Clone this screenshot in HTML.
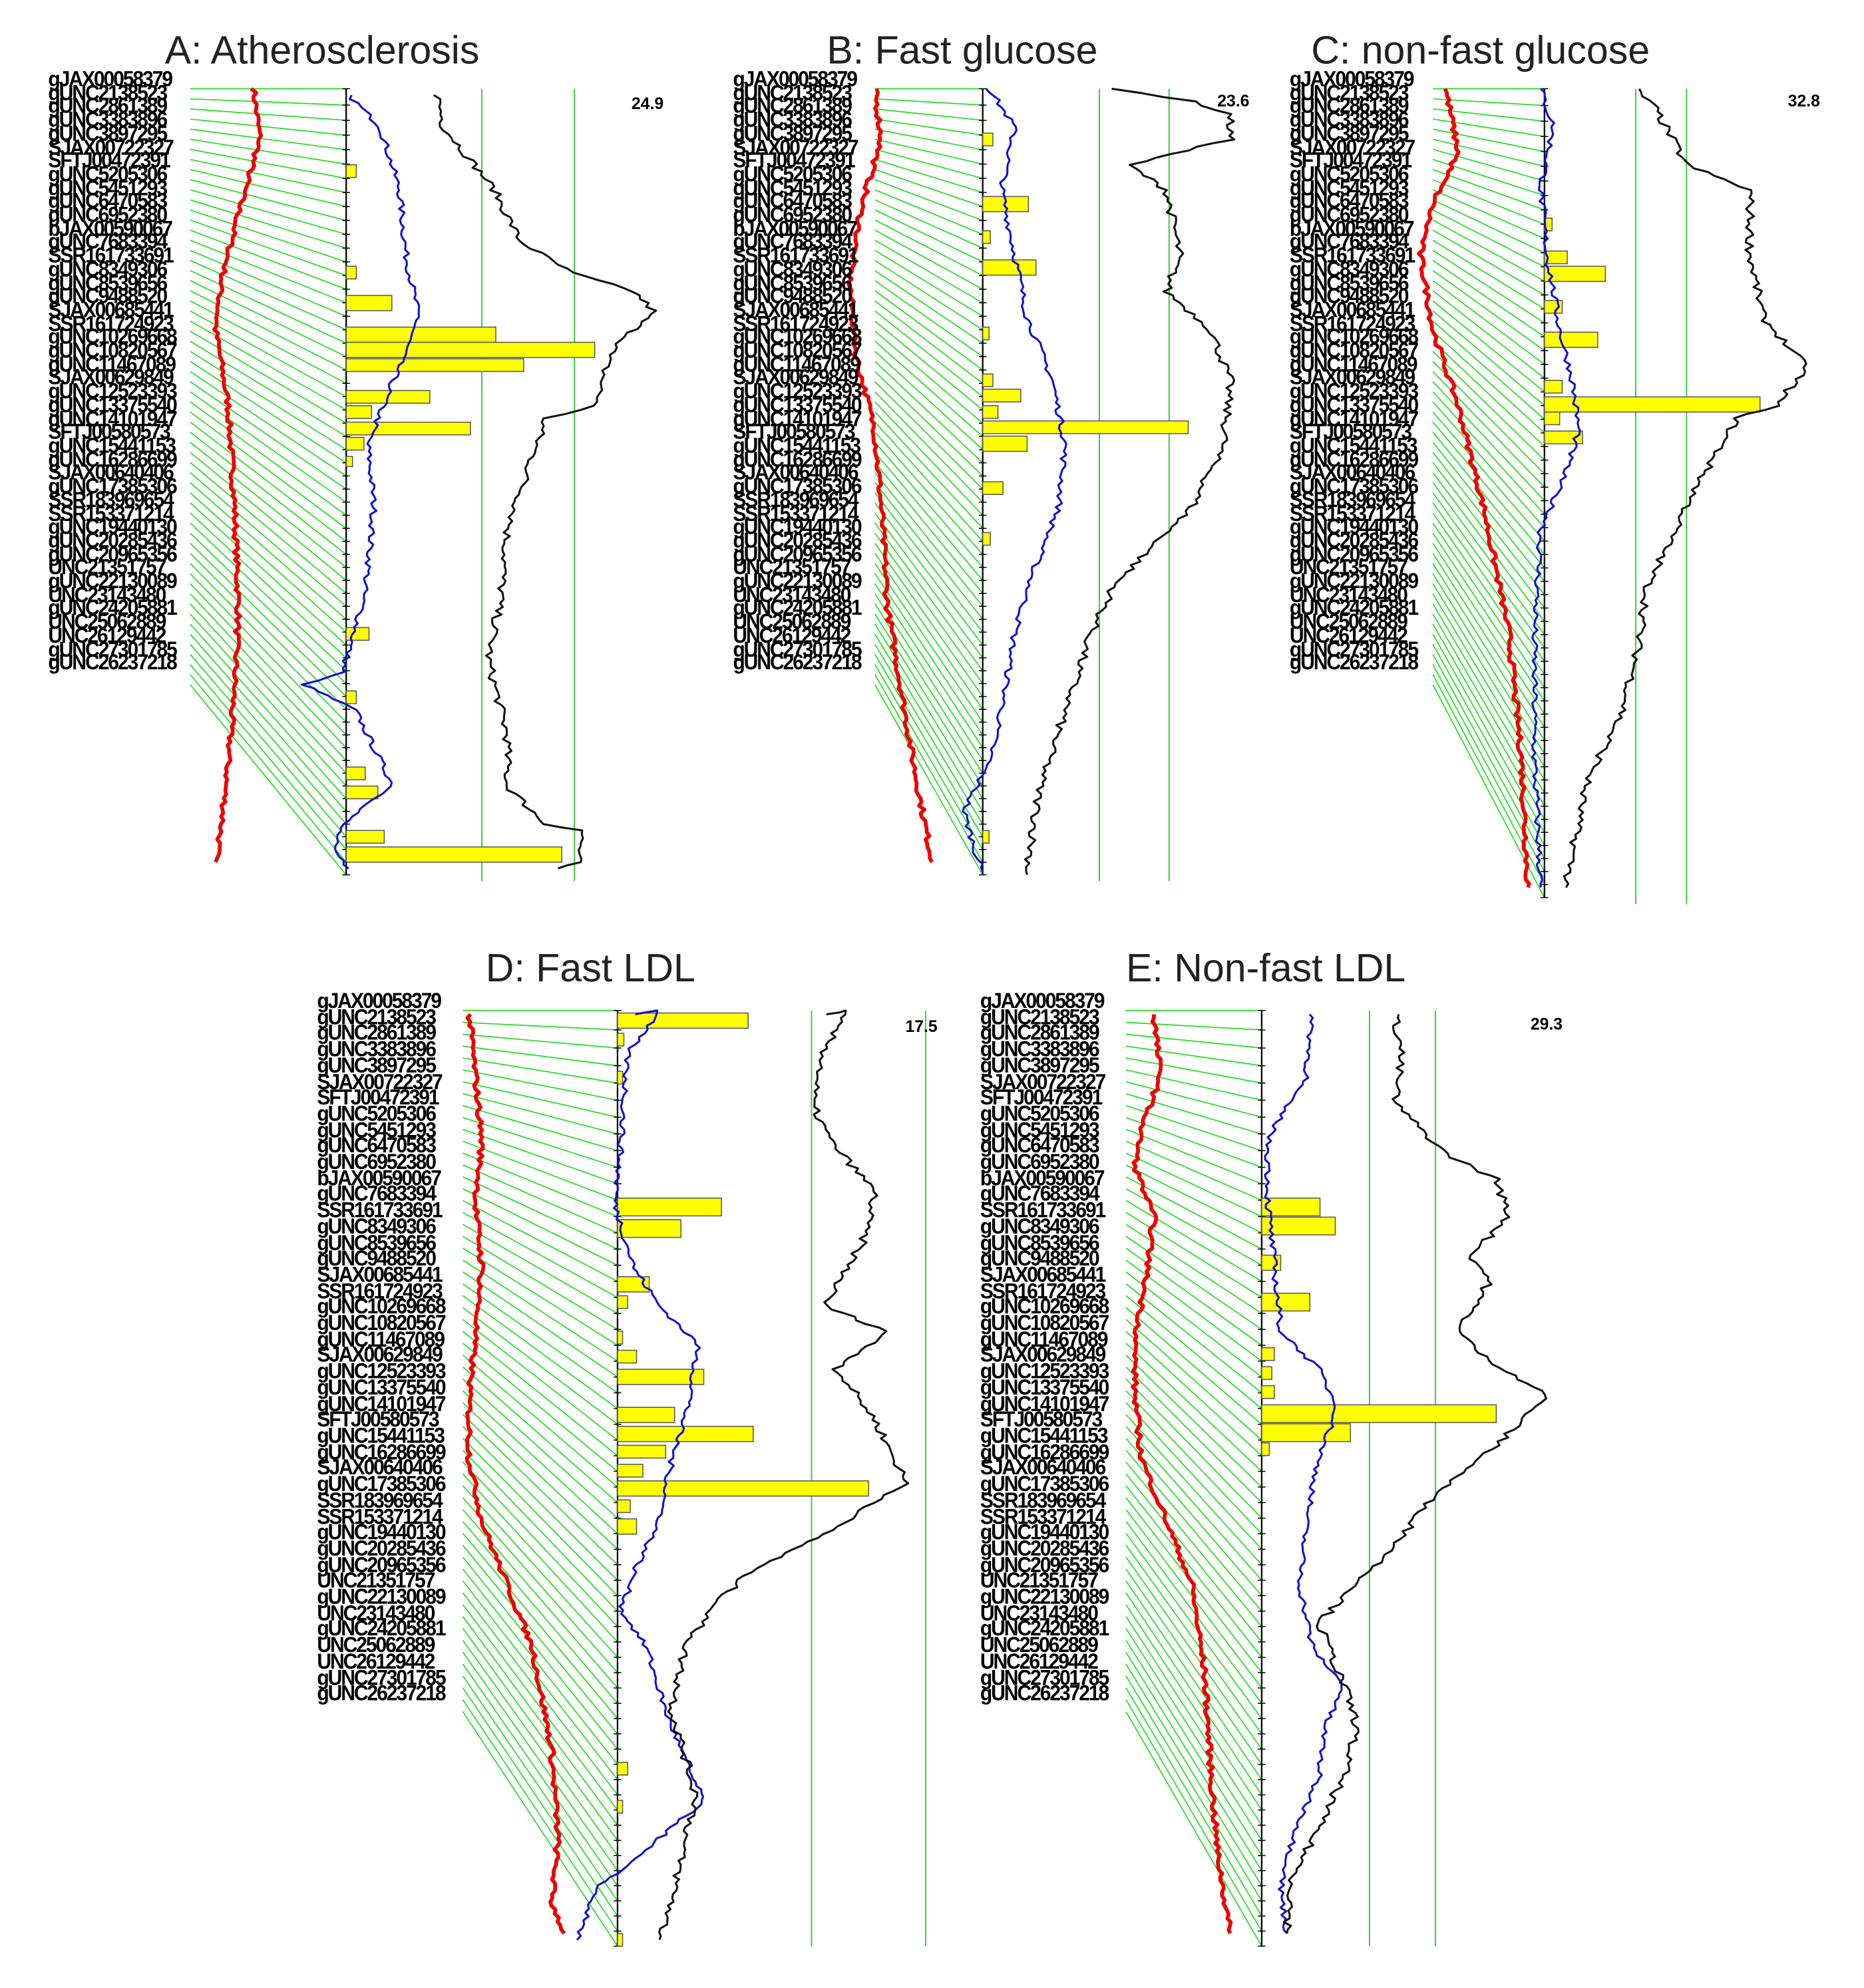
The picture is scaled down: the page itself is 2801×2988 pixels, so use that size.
<!DOCTYPE html>
<html><head><meta charset="utf-8">
<style>
html,body{margin:0;padding:0;background:#fff;}
#wrap{position:relative;width:2801px;height:2988px;overflow:hidden;background:#fff;}
#c{position:absolute;left:0;top:0;width:1470px;height:1568px;transform:scale(1.90544,1.90561);transform-origin:0 0;}
svg{position:absolute;left:0;top:0;}
.t{position:absolute;font-family:"Liberation Sans",sans-serif;font-size:31px;color:#222;white-space:nowrap;}
.lab{position:absolute;font-family:"Liberation Sans",sans-serif;font-weight:bold;font-size:17px;color:#000;letter-spacing:-1.2px;transform:scaleX(0.93);transform-origin:0 0;white-space:nowrap;}
.n{position:absolute;font-family:"Liberation Sans",sans-serif;font-weight:bold;font-size:13px;color:#000;}
</style></head><body>
<div id="wrap"><div id="c">
<svg id="s" width="1470" height="1568" viewBox="0 0 1470 1568"></svg>
<div class="t" style="left:130px;top:22px">A: Atherosclerosis</div>
<div class="t" style="left:652px;top:22px">B: Fast glucose</div>
<div class="t" style="left:1034px;top:22px">C: non-fast glucose</div>
<div class="t" style="left:383px;top:746px">D: Fast LDL</div>
<div class="t" style="left:888px;top:746px">E: Non-fast LDL</div>
<div class="n" style="left:498px;top:74px">24.9</div>
<div class="n" style="left:960px;top:72px">23.6</div>
<div class="n" style="left:1410px;top:72px">32.8</div>
<div class="n" style="left:714px;top:802px">17.5</div>
<div class="n" style="left:1207px;top:800px">29.3</div>
<div class="lab" style="left:38px;top:58px;line-height:10.7px">gJAX00058379<br>gUNC2138523<br>gUNC2861389<br>gUNC3383896<br>gUNC3897295<br>SJAX00722327<br>SFTJ00472391<br>gUNC5205306<br>gUNC5451293<br>gUNC6470583<br>gUNC6952380<br>bJAX00590067<br>gUNC7683394<br>SSR161733691<br>gUNC8349306<br>gUNC8539656<br>gUNC9488520<br>SJAX00685441<br>SSR161724923<br>gUNC10269668<br>gUNC10820567<br>gUNC11467089<br>SJAX00629849<br>gUNC12523393<br>gUNC13375540<br>gUNC14101947<br>SFTJ00580573<br>gUNC15441153<br>gUNC16286699<br>SJAX00640406<br>gUNC17385306<br>SSR183969654<br>SSR153371214<br>gUNC19440130<br>gUNC20285436<br>gUNC20965356<br>UNC21351757<br>gUNC22130089<br>UNC23143480<br>gUNC24205881<br>UNC25062889<br>UNC26129442<br>gUNC27301785<br>gUNC26237218</div>
<div class="lab" style="left:578px;top:58px;line-height:10.7px">gJAX00058379<br>gUNC2138523<br>gUNC2861389<br>gUNC3383896<br>gUNC3897295<br>SJAX00722327<br>SFTJ00472391<br>gUNC5205306<br>gUNC5451293<br>gUNC6470583<br>gUNC6952380<br>bJAX00590067<br>gUNC7683394<br>SSR161733691<br>gUNC8349306<br>gUNC8539656<br>gUNC9488520<br>SJAX00685441<br>SSR161724923<br>gUNC10269668<br>gUNC10820567<br>gUNC11467089<br>SJAX00629849<br>gUNC12523393<br>gUNC13375540<br>gUNC14101947<br>SFTJ00580573<br>gUNC15441153<br>gUNC16286699<br>SJAX00640406<br>gUNC17385306<br>SSR183969654<br>SSR153371214<br>gUNC19440130<br>gUNC20285436<br>gUNC20965356<br>UNC21351757<br>gUNC22130089<br>UNC23143480<br>gUNC24205881<br>UNC25062889<br>UNC26129442<br>gUNC27301785<br>gUNC26237218</div>
<div class="lab" style="left:1017px;top:58px;line-height:10.7px">gJAX00058379<br>gUNC2138523<br>gUNC2861389<br>gUNC3383896<br>gUNC3897295<br>SJAX00722327<br>SFTJ00472391<br>gUNC5205306<br>gUNC5451293<br>gUNC6470583<br>gUNC6952380<br>bJAX00590067<br>gUNC7683394<br>SSR161733691<br>gUNC8349306<br>gUNC8539656<br>gUNC9488520<br>SJAX00685441<br>SSR161724923<br>gUNC10269668<br>gUNC10820567<br>gUNC11467089<br>SJAX00629849<br>gUNC12523393<br>gUNC13375540<br>gUNC14101947<br>SFTJ00580573<br>gUNC15441153<br>gUNC16286699<br>SJAX00640406<br>gUNC17385306<br>SSR183969654<br>SSR153371214<br>gUNC19440130<br>gUNC20285436<br>gUNC20965356<br>UNC21351757<br>gUNC22130089<br>UNC23143480<br>gUNC24205881<br>UNC25062889<br>UNC26129442<br>gUNC27301785<br>gUNC26237218</div>
<div class="lab" style="left:250px;top:784px;line-height:12.7px">gJAX00058379<br>gUNC2138523<br>gUNC2861389<br>gUNC3383896<br>gUNC3897295<br>SJAX00722327<br>SFTJ00472391<br>gUNC5205306<br>gUNC5451293<br>gUNC6470583<br>gUNC6952380<br>bJAX00590067<br>gUNC7683394<br>SSR161733691<br>gUNC8349306<br>gUNC8539656<br>gUNC9488520<br>SJAX00685441<br>SSR161724923<br>gUNC10269668<br>gUNC10820567<br>gUNC11467089<br>SJAX00629849<br>gUNC12523393<br>gUNC13375540<br>gUNC14101947<br>SFTJ00580573<br>gUNC15441153<br>gUNC16286699<br>SJAX00640406<br>gUNC17385306<br>SSR183969654<br>SSR153371214<br>gUNC19440130<br>gUNC20285436<br>gUNC20965356<br>UNC21351757<br>gUNC22130089<br>UNC23143480<br>gUNC24205881<br>UNC25062889<br>UNC26129442<br>gUNC27301785<br>gUNC26237218</div>
<div class="lab" style="left:773px;top:784px;line-height:12.7px">gJAX00058379<br>gUNC2138523<br>gUNC2861389<br>gUNC3383896<br>gUNC3897295<br>SJAX00722327<br>SFTJ00472391<br>gUNC5205306<br>gUNC5451293<br>gUNC6470583<br>gUNC6952380<br>bJAX00590067<br>gUNC7683394<br>SSR161733691<br>gUNC8349306<br>gUNC8539656<br>gUNC9488520<br>SJAX00685441<br>SSR161724923<br>gUNC10269668<br>gUNC10820567<br>gUNC11467089<br>SJAX00629849<br>gUNC12523393<br>gUNC13375540<br>gUNC14101947<br>SFTJ00580573<br>gUNC15441153<br>gUNC16286699<br>SJAX00640406<br>gUNC17385306<br>SSR183969654<br>SSR153371214<br>gUNC19440130<br>gUNC20285436<br>gUNC20965356<br>UNC21351757<br>gUNC22130089<br>UNC23143480<br>gUNC24205881<br>UNC25062889<br>UNC26129442<br>gUNC27301785<br>gUNC26237218</div>
</div></div>
<script>
var s=document.getElementById('s'),NS='http://www.w3.org/2000/svg';
var seed=7;function R(){seed=(seed*16807)%2147483647;return seed/2147483647;}
function el(n,a){var e=document.createElementNS(NS,n);for(var k in a)e.setAttribute(k,a[k]);s.appendChild(e);return e;}
function curve(pts,col,w,j){var d='';for(var i=0;i<pts.length-1;i++){var a=pts[i],b=pts[i+1];var n=Math.max(2,Math.round(Math.abs(b[1]-a[1])/3));for(var k=0;k<n;k++){var t=k/n;var x=a[0]+(b[0]-a[0])*t+(R()-0.5)*j,y=a[1]+(b[1]-a[1])*t;d+=(d?'L':'M')+x.toFixed(1)+' '+y.toFixed(1);}}var L=pts[pts.length-1];d+='L'+L[0]+' '+L[1];el('path',{d:d,fill:'none',stroke:col,'stroke-width':w,'stroke-linejoin':'round'});}
var P=[
{lx:150,lt:70,lb:540,ax:273,at:70,ab:690,v:[380,453],
bars:[[130,8,10],[210,8,10],[233,36,12],[258,118,12],[270,196,12],[283,140,10],[308,66,10],[320,20,10],[333,98,10],[345,14,10],[360,5,8],[495,18,10],[545,8,10],[605,15,10],[620,25,10],[655,30,10],[668,170,12]],
red:[[200,70],[205,110],[190,160],[175,220],[170,260],[180,320],[185,400],[188,480],[185,540],[180,600],[175,650],[170,680]],
blue:[[275,75],[300,100],[315,150],[320,200],[330,250],[310,300],[290,350],[295,400],[290,450],[285,480],[270,530],[240,540],[280,560],[300,600],[310,620],[270,650],[262,670],[275,685]],
black:[[345,75],[350,100],[390,150],[410,190],[450,215],[500,230],[515,245],[480,280],[470,320],[430,330],[420,360],[400,420],[395,470],[385,520],[400,580],[400,620],[430,650],[460,655],[455,680],[440,685]]},
{lx:690,lt:70,lb:540,ax:775,at:70,ab:690,v:[867,922],
bars:[[105,8,10],[155,36,12],[182,6,10],[205,42,12],[258,5,10],[295,8,10],[307,30,10],[320,12,10],[332,162,10],[344,35,12],[380,16,10],[420,6,10],[655,5,10]],
red:[[690,70],[695,110],[680,160],[670,220],[675,280],[690,340],[695,400],[700,480],[710,540],[720,600],[735,680]],
blue:[[780,70],[800,100],[790,150],[800,200],[810,250],[830,300],[840,350],[835,400],[815,450],[800,500],[790,560],[780,600],[760,640],[775,690]],
black:[[880,70],[940,80],[970,90],[970,110],[890,130],[920,150],[930,200],[920,230],[955,260],[970,300],[965,350],[940,400],[900,440],[880,460],[860,500],[840,560],[820,620],[810,690]]},
{lx:1130,lt:70,lb:540,ax:1218,at:70,ab:708,v:[1290,1330],
bars:[[172,6,10],[198,18,10],[210,48,12],[237,14,10],[262,42,12],[300,14,10],[313,170,12],[325,12,10],[340,30,10]],
red:[[1140,70],[1150,120],[1130,160],[1120,200],[1130,260],[1150,320],[1170,400],[1190,500],[1200,600],[1205,700]],
blue:[[1215,70],[1225,100],[1215,150],[1220,200],[1230,260],[1240,300],[1245,340],[1235,370],[1215,420],[1210,500],[1210,600],[1215,700]],
black:[[1290,70],[1305,85],[1330,130],[1380,150],[1380,200],[1390,250],[1425,290],[1400,320],[1370,330],[1340,380],[1320,420],[1300,460],[1290,520],[1280,560],[1250,620],[1235,700]]},
{lx:365,lt:797,lb:1350,ax:487,at:797,ab:1535,v:[640,730],
bars:[[799,103,12],[815,5,10],[845,4,10],[945,82,14],[962,50,14],[1007,25,12],[1022,8,10],[1050,4,10],[1065,15,10],[1080,68,12],[1110,45,12],[1125,107,12],[1140,38,10],[1155,20,10],[1168,198,12],[1183,10,10],[1198,15,12],[1390,8,10],[1420,4,10],[1525,4,10]],
red:[[370,800],[375,850],[380,900],[375,950],[380,1000],[375,1050],[370,1100],[370,1150],[380,1200],[400,1250],[420,1300],[435,1380],[440,1450],[435,1500],[445,1525]],
blue:[[500,800],[520,797],[495,830],[490,900],[485,950],[500,1000],[520,1030],[550,1060],[545,1100],[530,1150],[520,1200],[500,1240],[490,1270],[510,1300],[525,1350],[545,1400],[555,1420],[520,1450],[470,1490],[455,1530]],
black:[[655,800],[665,797],[650,830],[640,870],[655,900],[690,940],[680,980],[650,1030],[700,1050],[660,1080],[690,1120],[715,1170],[650,1210],[590,1240],[560,1270],[540,1300],[530,1350],[550,1420],[540,1450],[530,1500],[520,1530]]},
{lx:888,lt:797,lb:1350,ax:995,at:797,ab:1535,v:[1080,1132],
bars:[[945,46,14],[960,58,14],[990,15,12],[1020,38,14],[1063,10,10],[1078,8,10],[1093,10,10],[1108,185,14],[1123,70,14],[1138,6,10]],
red:[[910,800],[915,850],[900,890],[895,920],[910,960],[905,1000],[895,1060],[895,1100],[900,1150],[920,1200],[940,1250],[950,1320],[955,1400],[960,1460],[970,1525]],
blue:[[1035,800],[1030,850],[1015,870],[1000,900],[1000,950],[1005,1000],[1010,1050],[1040,1080],[1055,1110],[1040,1150],[1030,1200],[1025,1250],[1035,1300],[1060,1330],[1045,1360],[1040,1400],[1020,1450],[1010,1490],[1015,1525]],
black:[[1100,800],[1105,830],[1100,870],[1140,910],[1180,930],[1190,960],[1160,990],[1175,1010],[1150,1050],[1170,1070],[1220,1100],[1180,1140],[1130,1180],[1100,1220],[1060,1260],[1040,1280],[1060,1330],[1070,1360],[1060,1400],[1040,1440],[1020,1480],[1015,1525]]}
];
P.forEach(function(p){
 p.v.forEach(function(x){el('line',{x1:x,y1:p.at,x2:x,y2:p.ab+(p.at>700?0:5),stroke:'#3c3','stroke-width':1});});
 var N=60;
 for(var i=0;i<N;i++){var t=i/(N-1);var y1=p.lt+(p.lb-p.lt)*t;var y2=p.at+(p.ab-p.at)*Math.pow(t,0.95);
  el('line',{x1:p.lx,y1:y1,x2:p.ax,y2:y2,stroke:'#22dd22','stroke-width':0.9});
  el('line',{x1:p.ax-3,y1:y2,x2:p.ax+3,y2:y2,stroke:'#000','stroke-width':0.8});}
 curve(p.red,'#e00',3,4);
 el('line',{x1:p.ax,y1:p.at,x2:p.ax,y2:p.ab,stroke:'#000','stroke-width':1.2});
 p.bars.forEach(function(b){el('rect',{x:p.ax,y:b[0],width:b[1],height:b[2],fill:'#ff0','stroke':'#555','stroke-width':0.8});});
 curve(p.blue,'#11c',1.6,5);
 curve(p.black,'#111',1.6,7);
});
</script>
</body></html>
